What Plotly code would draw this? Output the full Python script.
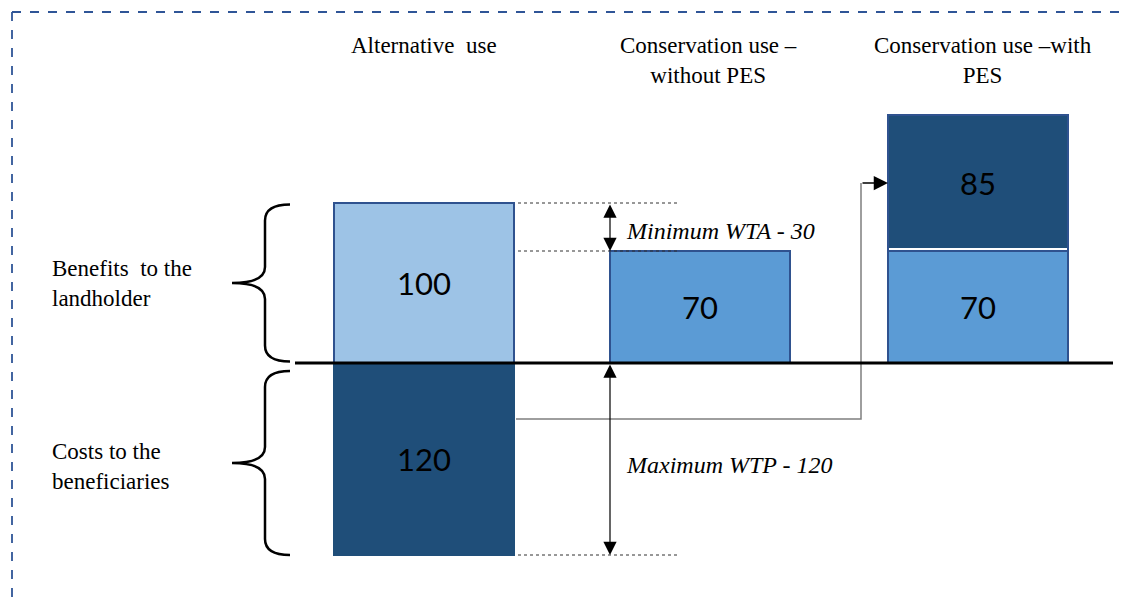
import plotly.graph_objects as go

# ---- data -------------------------------------------------------------
scenarios = ["Alternative  use", "Conservation use –<br>without PES", "Conservation use –with<br>PES"]
benefit_base = [100, 70, 70]        # benefit to the landholder under each land use
pes_payment = [None, None, 85]      # payment stacked on top of the conservation benefit
beneficiary_cost = [120, None, None]
min_wta = 30
max_wtp = 120
row_labels = ["Benefits  to the<br>landholder", "Costs to the<br>beneficiaries"]

# ---- styling ----------------------------------------------------------
W, H = 1125, 598
BASE_PX = 363            # pixel row of the zero line
SCALE = 1.6              # pixels per unit
centers = [424, 700, 978]
bar_w = 180
LIGHT, MID, DARK = "#9DC3E6", "#5B9BD5", "#1F4E79"
EDGE = "#2F528F"
SERIF = "Liberation Serif"
SANS = "Lato"

y_top = BASE_PX / SCALE
y_bot = -(H - BASE_PX) / SCALE


def paper_y(px):
    return 1 - px / H


fig = go.Figure()

num_font = dict(family=SANS, size=31, color="black")


def add_bar(xc, base, height, color, edge=EDGE):
    fig.add_trace(go.Bar(
        x=[xc], y=[height], base=[base], width=[bar_w],
        marker=dict(color=color, line=dict(color=edge, width=2)),
        text=[str(height)], textposition="inside", insidetextanchor="middle",
        textfont=num_font, constraintext="none", hoverinfo="skip",
        showlegend=False,
    ))


# benefits above zero
bar_colors = [LIGHT, MID, MID]
for xc, v, c in zip(centers, benefit_base, bar_colors):
    add_bar(xc, 0, v, c)
# PES payment stacked on the conservation benefit
for xc, b, p in zip(centers, benefit_base, pes_payment):
    if p is not None:
        add_bar(xc, b, p, DARK)
# costs to beneficiaries below zero
for xc, c in zip(centers, beneficiary_cost):
    if c is not None:
        add_bar(xc, -c, c, DARK, edge=DARK)

shapes = []

# thin white seam between the stacked boxes
for xc, b, p in zip(centers, benefit_base, pes_payment):
    if p is not None:
        shapes.append(dict(type="line", xref="x", yref="y", x0=xc - bar_w / 2 + 1,
                           x1=xc + bar_w / 2 - 1, y0=b + 1.2, y1=b + 1.2,
                           line=dict(color="white", width=2)))

# zero line
shapes.append(dict(type="line", xref="x", yref="y", x0=295, x1=1113, y0=0, y1=0,
                   line=dict(color="black", width=3)))

# dashed guides at the relevant levels
alt_right = centers[0] + bar_w / 2
for lvl in [benefit_base[0], benefit_base[1], -beneficiary_cost[0]]:
    shapes.append(dict(type="line", xref="x", yref="y", x0=alt_right + 4, x1=680,
                       y0=lvl, y1=lvl, line=dict(color="#303030", width=1, dash="3px,3px")))

# dashed frame (top and left edges)
frame = dict(color="#2F5597", width=1.8, dash="dash")
shapes.append(dict(type="line", xref="paper", yref="paper", x0=12 / W, x1=1, y0=paper_y(12), y1=paper_y(12), line=frame))
shapes.append(dict(type="line", xref="paper", yref="paper", x0=12 / W, x1=12 / W, y0=paper_y(12), y1=0, line=frame))


def brace(yt, yb, xr=290, xs=265, xt=232, r=16):
    ry = r / SCALE
    ym = (yt + yb) / 2
    return (f"M {xr},{yt} Q {xs},{yt} {xs},{yt - ry} L {xs},{ym + ry} "
            f"Q {xs},{ym} {xt},{ym} Q {xs},{ym} {xs},{ym - ry} "
            f"L {xs},{yb + ry} Q {xs},{yb} {xr},{yb}")


shapes.append(dict(type="path", xref="x", yref="y", path=brace(benefit_base[0] - 1, 1),
                   line=dict(color="black", width=2.5)))
shapes.append(dict(type="path", xref="x", yref="y", path=brace(-5, -beneficiary_cost[0]),
                   line=dict(color="black", width=2.5)))

# connector from the beneficiaries' cost to the PES payment
pes_mid = benefit_base[2] + pes_payment[2] / 2
conn_y = -35
fig.add_trace(go.Scatter(
    x=[alt_right + 2, 861, 861], y=[conn_y, conn_y, pes_mid],
    mode="lines", line=dict(color="#7F7F7F", width=1.5),
    hoverinfo="skip", showlegend=False,
))

annotations = []
pes_left = centers[2] - bar_w / 2
annotations.append(dict(x=pes_left, y=pes_mid, ax=861, ay=pes_mid, xref="x", yref="y",
                        axref="x", ayref="y", text="", showarrow=True, arrowhead=2,
                        arrowsize=1.9, arrowwidth=1.5, arrowcolor="black"))

# double-headed arrows for WTA and WTP
arr_x = 610
for top, bot in [(benefit_base[0], benefit_base[0] - min_wta), (0, -max_wtp)]:
    annotations.append(dict(x=arr_x, y=bot, ax=arr_x, ay=top, xref="x", yref="y",
                            axref="x", ayref="y", text="", showarrow=True,
                            arrowhead=2, startarrowhead=2, arrowside="end+start",
                            arrowsize=2.2, startarrowsize=2.2, arrowwidth=1.2,
                            arrowcolor="black"))

ital = dict(family=SERIF, size=24, color="black")
annotations.append(dict(x=624, y=benefit_base[0] - min_wta / 2 - 2.5, xref="x", yref="y",
                        text=f"<i>Minimum WTA - {min_wta}</i>", showarrow=False,
                        xanchor="left", yanchor="middle", font=ital))
annotations.append(dict(x=624, y=-max_wtp / 2 - 4, xref="x", yref="y",
                        text=f"<i>Maximum WTP - {max_wtp}</i>", showarrow=False,
                        xanchor="left", yanchor="middle", font=ital))

# column titles
title_font = dict(family=SERIF, size=23, color="black")
title_x = [424, 708, 983]
for xc, t in zip(title_x, scenarios):
    annotations.append(dict(x=xc, y=paper_y(31), xref="x", yref="paper", text=t,
                            showarrow=False, xanchor="center", yanchor="top",
                            align="center", font=title_font))

# row labels
for ypx, t in zip([254, 437], row_labels):
    annotations.append(dict(x=50, y=paper_y(ypx), xref="x", yref="paper", text=t,
                            showarrow=False, xanchor="left", yanchor="top",
                            align="left", font=title_font))

fig.update_layout(
    width=W, height=H,
    margin=dict(l=0, r=0, t=0, b=0, pad=0),
    paper_bgcolor="white", plot_bgcolor="white",
    barmode="overlay",
    xaxis=dict(range=[0, W], visible=False, fixedrange=True),
    yaxis=dict(range=[y_bot, y_top], visible=False, fixedrange=True),
    shapes=shapes, annotations=annotations,
    showlegend=False,
)

fig.write_html("out.html")
